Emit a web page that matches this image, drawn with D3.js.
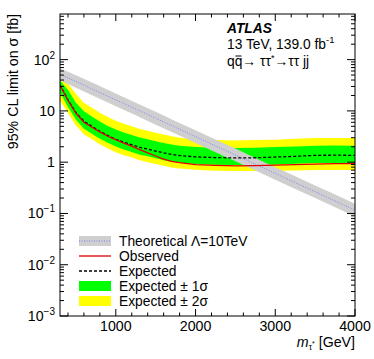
<!DOCTYPE html>
<html>
<head>
<meta charset="utf-8">
<script src="https://cdn.jsdelivr.net/npm/d3@7"></script>
<style>
  body { margin: 0; background: #fff; }
  svg { display: block; font-family: "Liberation Sans", Arial, Helvetica, sans-serif; }
</style>
</head>
<body>
<div id="chart"></div>
<script>
// mass points [GeV]
const masses = [300, 400, 500, 600, 700, 800, 900, 1000, 1100, 1200, 1300, 1400, 1500,
  1600, 1700, 1800, 2000, 2250, 2500, 2750, 3000, 3250, 3500, 3750, 4000];
const observed = [32, 16, 9, 6.0, 4.8, 3.9, 3.2, 2.75, 2.35, 2.05, 1.75, 1.52, 1.32,
  1.15, 1.04, 0.98, 0.9, 0.87, 0.85, 0.86, 0.88, 0.9, 0.92, 0.94, 0.94];
const expected = [32, 16.5, 9.3, 6.3, 5.0, 4.0, 3.3, 2.8, 2.45, 2.2, 1.95, 1.8, 1.65,
  1.52, 1.42, 1.35, 1.27, 1.23, 1.21, 1.22, 1.26, 1.3, 1.36, 1.37, 1.36];
const expP2 = [44, 34, 21.4, 14.5, 11.5, 9.2, 7.6, 6.4, 5.6, 5.0, 4.45, 4.1, 3.75,
  3.45, 3.2, 3.0, 2.8, 2.7, 2.65, 2.7, 2.75, 2.85, 2.95, 2.95, 2.95];
const expP1 = [39, 25.6, 14.4, 9.8, 7.75, 6.2, 5.1, 4.35, 3.8, 3.4, 3.02, 2.8, 2.56,
  2.36, 2.2, 2.1, 1.98, 1.92, 1.9, 1.92, 1.97, 2.02, 2.1, 2.12, 2.1];
const expM1 = [23, 11.9, 6.7, 4.5, 3.6, 2.88, 2.38, 2.02, 1.76, 1.58, 1.4, 1.3, 1.19,
  1.09, 1.02, 0.97, 0.92, 0.89, 0.88, 0.88, 0.9, 0.93, 0.96, 0.96, 0.95];
const expM2 = [16, 9.2, 5.2, 3.5, 2.8, 2.24, 1.85, 1.57, 1.37, 1.23, 1.09, 1.0, 0.92,
  0.85, 0.79, 0.75, 0.71, 0.68, 0.67, 0.67, 0.68, 0.69, 0.7, 0.7, 0.7];

// theory cross-section, Lambda = 10 TeV
const theoryMass = [300, 500, 750, 1000, 1250, 1500, 1750, 2000, 2250, 2500,
  2750, 3000, 3250, 3500, 3750, 4000];
const theory = [52, 37.5, 24.8, 16.4, 10.9, 7.19, 4.76, 3.15, 2.08, 1.38,
  0.912, 0.604, 0.4, 0.265, 0.175, 0.116];
const theoryUp = [68, 49.5, 33, 21.8, 14.5, 9.6, 6.3, 4.2, 2.77, 1.84,
  1.21, 0.8, 0.53, 0.35, 0.233, 0.154];
const theoryDown = [39, 28.2, 18.6, 12.3, 8.2, 5.4, 3.58, 2.37, 1.56, 1.04,
  0.686, 0.454, 0.3, 0.2, 0.132, 0.087];

const xMajor = [1000, 2000, 3000, 4000];
const yExponents = [-3, -2, -1, 0, 1, 2];

const W = 374, H = 359;
const pL = 60, pR = 355, pT = 14, pB = 316;
const fs = 14.2;

const svg = d3.select("#chart").append("svg")
  .attr("width", W).attr("height", H);

const x = d3.scaleLinear().domain([300, 4000]).range([pL, pR]);
const y = d3.scaleLog().domain([1e-3, Math.pow(10, 2.89)]).range([pB, pT]);

svg.append("clipPath").attr("id", "plotclip")
  .append("rect").attr("x", pL).attr("y", pT)
  .attr("width", pR - pL).attr("height", pB - pT);

const plot = svg.append("g").attr("clip-path", "url(#plotclip)");

const rows = masses.map((m, i) => ({ m: m, obs: observed[i], exp: expected[i],
  p2: expP2[i], p1: expP1[i], m1: expM1[i], m2: expM2[i] }));
const thRows = theoryMass.map((m, i) => ({ m: m, v: theory[i], up: theoryUp[i], dn: theoryDown[i] }));

// bands
const band = (lo, hi) => d3.area().x(d => x(d.m)).y0(d => y(d[lo])).y1(d => y(d[hi]));
plot.append("path").datum(rows).attr("d", band("m2", "p2")).attr("fill", "#ffff00");
plot.append("path").datum(rows).attr("d", band("m1", "p1")).attr("fill", "#00ff00");

// theory band
plot.append("path").datum(thRows)
  .attr("d", d3.area().x(d => x(d.m)).y0(d => y(d.dn)).y1(d => y(d.up)))
  .attr("fill", "#cfcfcf");
plot.append("path").datum(thRows)
  .attr("d", d3.line().x(d => x(d.m)).y(d => y(d.v)))
  .attr("fill", "none").attr("stroke", "#7f7fff").attr("stroke-width", 1)
  .attr("stroke-dasharray", "1,1.5");

// expected and observed
plot.append("path").datum(rows)
  .attr("d", d3.line().x(d => x(d.m)).y(d => y(d.exp)))
  .attr("fill", "none").attr("stroke", "#000").attr("stroke-width", 1.3)
  .attr("stroke-dasharray", "3,2");
plot.append("path").datum(rows)
  .attr("d", d3.line().x(d => x(d.m)).y(d => y(d.obs)))
  .attr("fill", "none").attr("stroke", "#e00000").attr("stroke-width", 1.3);

// frame
svg.append("rect").attr("x", pL).attr("y", pT)
  .attr("width", pR - pL).attr("height", pB - pT)
  .attr("fill", "none").attr("stroke", "#000").attr("stroke-width", 1);

const ticks = svg.append("g").attr("stroke", "#000").attr("stroke-width", 1);

// x ticks (inward, top and bottom)
const xMinor = d3.range(400, 4000, 200).filter(v => xMajor.indexOf(v) < 0);
xMajor.forEach(v => {
  ticks.append("line").attr("x1", x(v)).attr("x2", x(v)).attr("y1", pB).attr("y2", pB - 7);
  ticks.append("line").attr("x1", x(v)).attr("x2", x(v)).attr("y1", pT).attr("y2", pT + 7);
});
xMinor.forEach(v => {
  ticks.append("line").attr("x1", x(v)).attr("x2", x(v)).attr("y1", pB).attr("y2", pB - 3.5);
  ticks.append("line").attr("x1", x(v)).attr("x2", x(v)).attr("y1", pT).attr("y2", pT + 3.5);
});

// y ticks (inward, left and right)
yExponents.forEach(e => {
  const v = Math.pow(10, e);
  ticks.append("line").attr("x1", pL).attr("x2", pL + 8).attr("y1", y(v)).attr("y2", y(v));
  ticks.append("line").attr("x1", pR).attr("x2", pR - 8).attr("y1", y(v)).attr("y2", y(v));
  for (let k = 2; k <= 9; k++) {
    const mv = k * v;
    if (mv > y.domain()[1]) break;
    ticks.append("line").attr("x1", pL).attr("x2", pL + 4).attr("y1", y(mv)).attr("y2", y(mv));
    ticks.append("line").attr("x1", pR).attr("x2", pR - 4).attr("y1", y(mv)).attr("y2", y(mv));
  }
});

// x tick labels
svg.append("g").selectAll("text").data(xMajor).enter().append("text")
  .attr("x", d => x(d)).attr("y", 331)
  .attr("text-anchor", "middle").attr("font-size", fs)
  .text(d => d);

// y tick labels
const yl = svg.append("g").attr("font-size", fs).attr("text-anchor", "end");
yExponents.forEach(e => {
  const t = yl.append("text").attr("x", 55).attr("y", y(Math.pow(10, e)) + 5);
  if (e === 0) t.text("1");
  else if (e === 1) t.text("10");
  else {
    t.append("tspan").text("10");
    t.append("tspan").attr("dy", -6).attr("font-size", 10).text(e < 0 ? "\u2212" + (-e) : e);
  }
});

// axis titles
svg.append("text")
  .attr("transform", "translate(18," + pT + ") rotate(-90)")
  .attr("text-anchor", "end").attr("font-size", fs)
  .text("95% CL limit on \u03c3 [fb]");

const xt = svg.append("text").attr("x", pR).attr("y", 347)
  .attr("text-anchor", "end").attr("font-size", fs);
xt.append("tspan").attr("font-style", "italic").text("m");
xt.append("tspan").attr("font-size", 8.5).attr("dy", 3).text("\u03c4");
xt.append("tspan").attr("font-size", 7).attr("dy", -4).text("*");
xt.append("tspan").attr("dy", 1).text(" [GeV]");

// ATLAS labels
const tx = 227, tfs = 13.8;
svg.append("text").attr("x", tx).attr("y", 33)
  .attr("font-size", tfs).attr("font-weight", "bold").attr("font-style", "italic")
  .text("ATLAS");
const lumi = svg.append("text").attr("x", tx).attr("y", 49).attr("font-size", tfs);
lumi.append("tspan").text("13 TeV, 139.0 fb");
lumi.append("tspan").attr("font-size", 9.5).attr("dy", -6).text("-1");
const procY = 65.5;
const proc = svg.append("text").attr("x", tx).attr("y", procY).attr("font-size", tfs);
proc.append("tspan").text("qq\u2192 \u03c4\u03c4");
proc.append("tspan").attr("font-size", 9).attr("dy", -4.5).text("*");
proc.append("tspan").attr("dy", 4.5).text("\u2192\u03c4\u03c4 jj");
// bar over the anti-quark
const qw = 0.556 * tfs;
svg.append("line").attr("x1", tx + qw + 0.8).attr("x2", tx + 2 * qw - 0.8)
  .attr("y1", procY - 9.5).attr("y2", procY - 9.5)
  .attr("stroke", "#000").attr("stroke-width", 1);

// legend
const legendY = [241, 256, 271, 286, 301];
const legendText = ["Theoretical \u039b=10TeV", "Observed", "Expected", "Expected \u00b1 1\u03c3", "Expected \u00b1 2\u03c3"];
const lg = svg.append("g");
const sx0 = 79, sx1 = 111;
lg.append("rect").attr("x", sx0).attr("y", legendY[0] - 5).attr("width", sx1 - sx0).attr("height", 10).attr("fill", "#cfcfcf");
lg.append("line").attr("x1", sx0).attr("x2", sx1).attr("y1", legendY[0]).attr("y2", legendY[0])
  .attr("stroke", "#7f7fff").attr("stroke-dasharray", "1,1.5");
lg.append("line").attr("x1", sx0).attr("x2", sx1).attr("y1", legendY[1]).attr("y2", legendY[1])
  .attr("stroke", "#e00000").attr("stroke-width", 1.3);
lg.append("line").attr("x1", sx0).attr("x2", sx1).attr("y1", legendY[2]).attr("y2", legendY[2])
  .attr("stroke", "#000").attr("stroke-width", 1.3).attr("stroke-dasharray", "3,2");
lg.append("rect").attr("x", sx0).attr("y", legendY[3] - 5).attr("width", sx1 - sx0).attr("height", 10).attr("fill", "#00ff00");
lg.append("rect").attr("x", sx0).attr("y", legendY[4] - 5).attr("width", sx1 - sx0).attr("height", 10).attr("fill", "#ffff00");
lg.selectAll("text").data(legendText).enter().append("text")
  .attr("x", 119).attr("y", (d, i) => legendY[i] + 5)
  .attr("font-size", 13.8).text(d => d);
</script>
</body>
</html>
